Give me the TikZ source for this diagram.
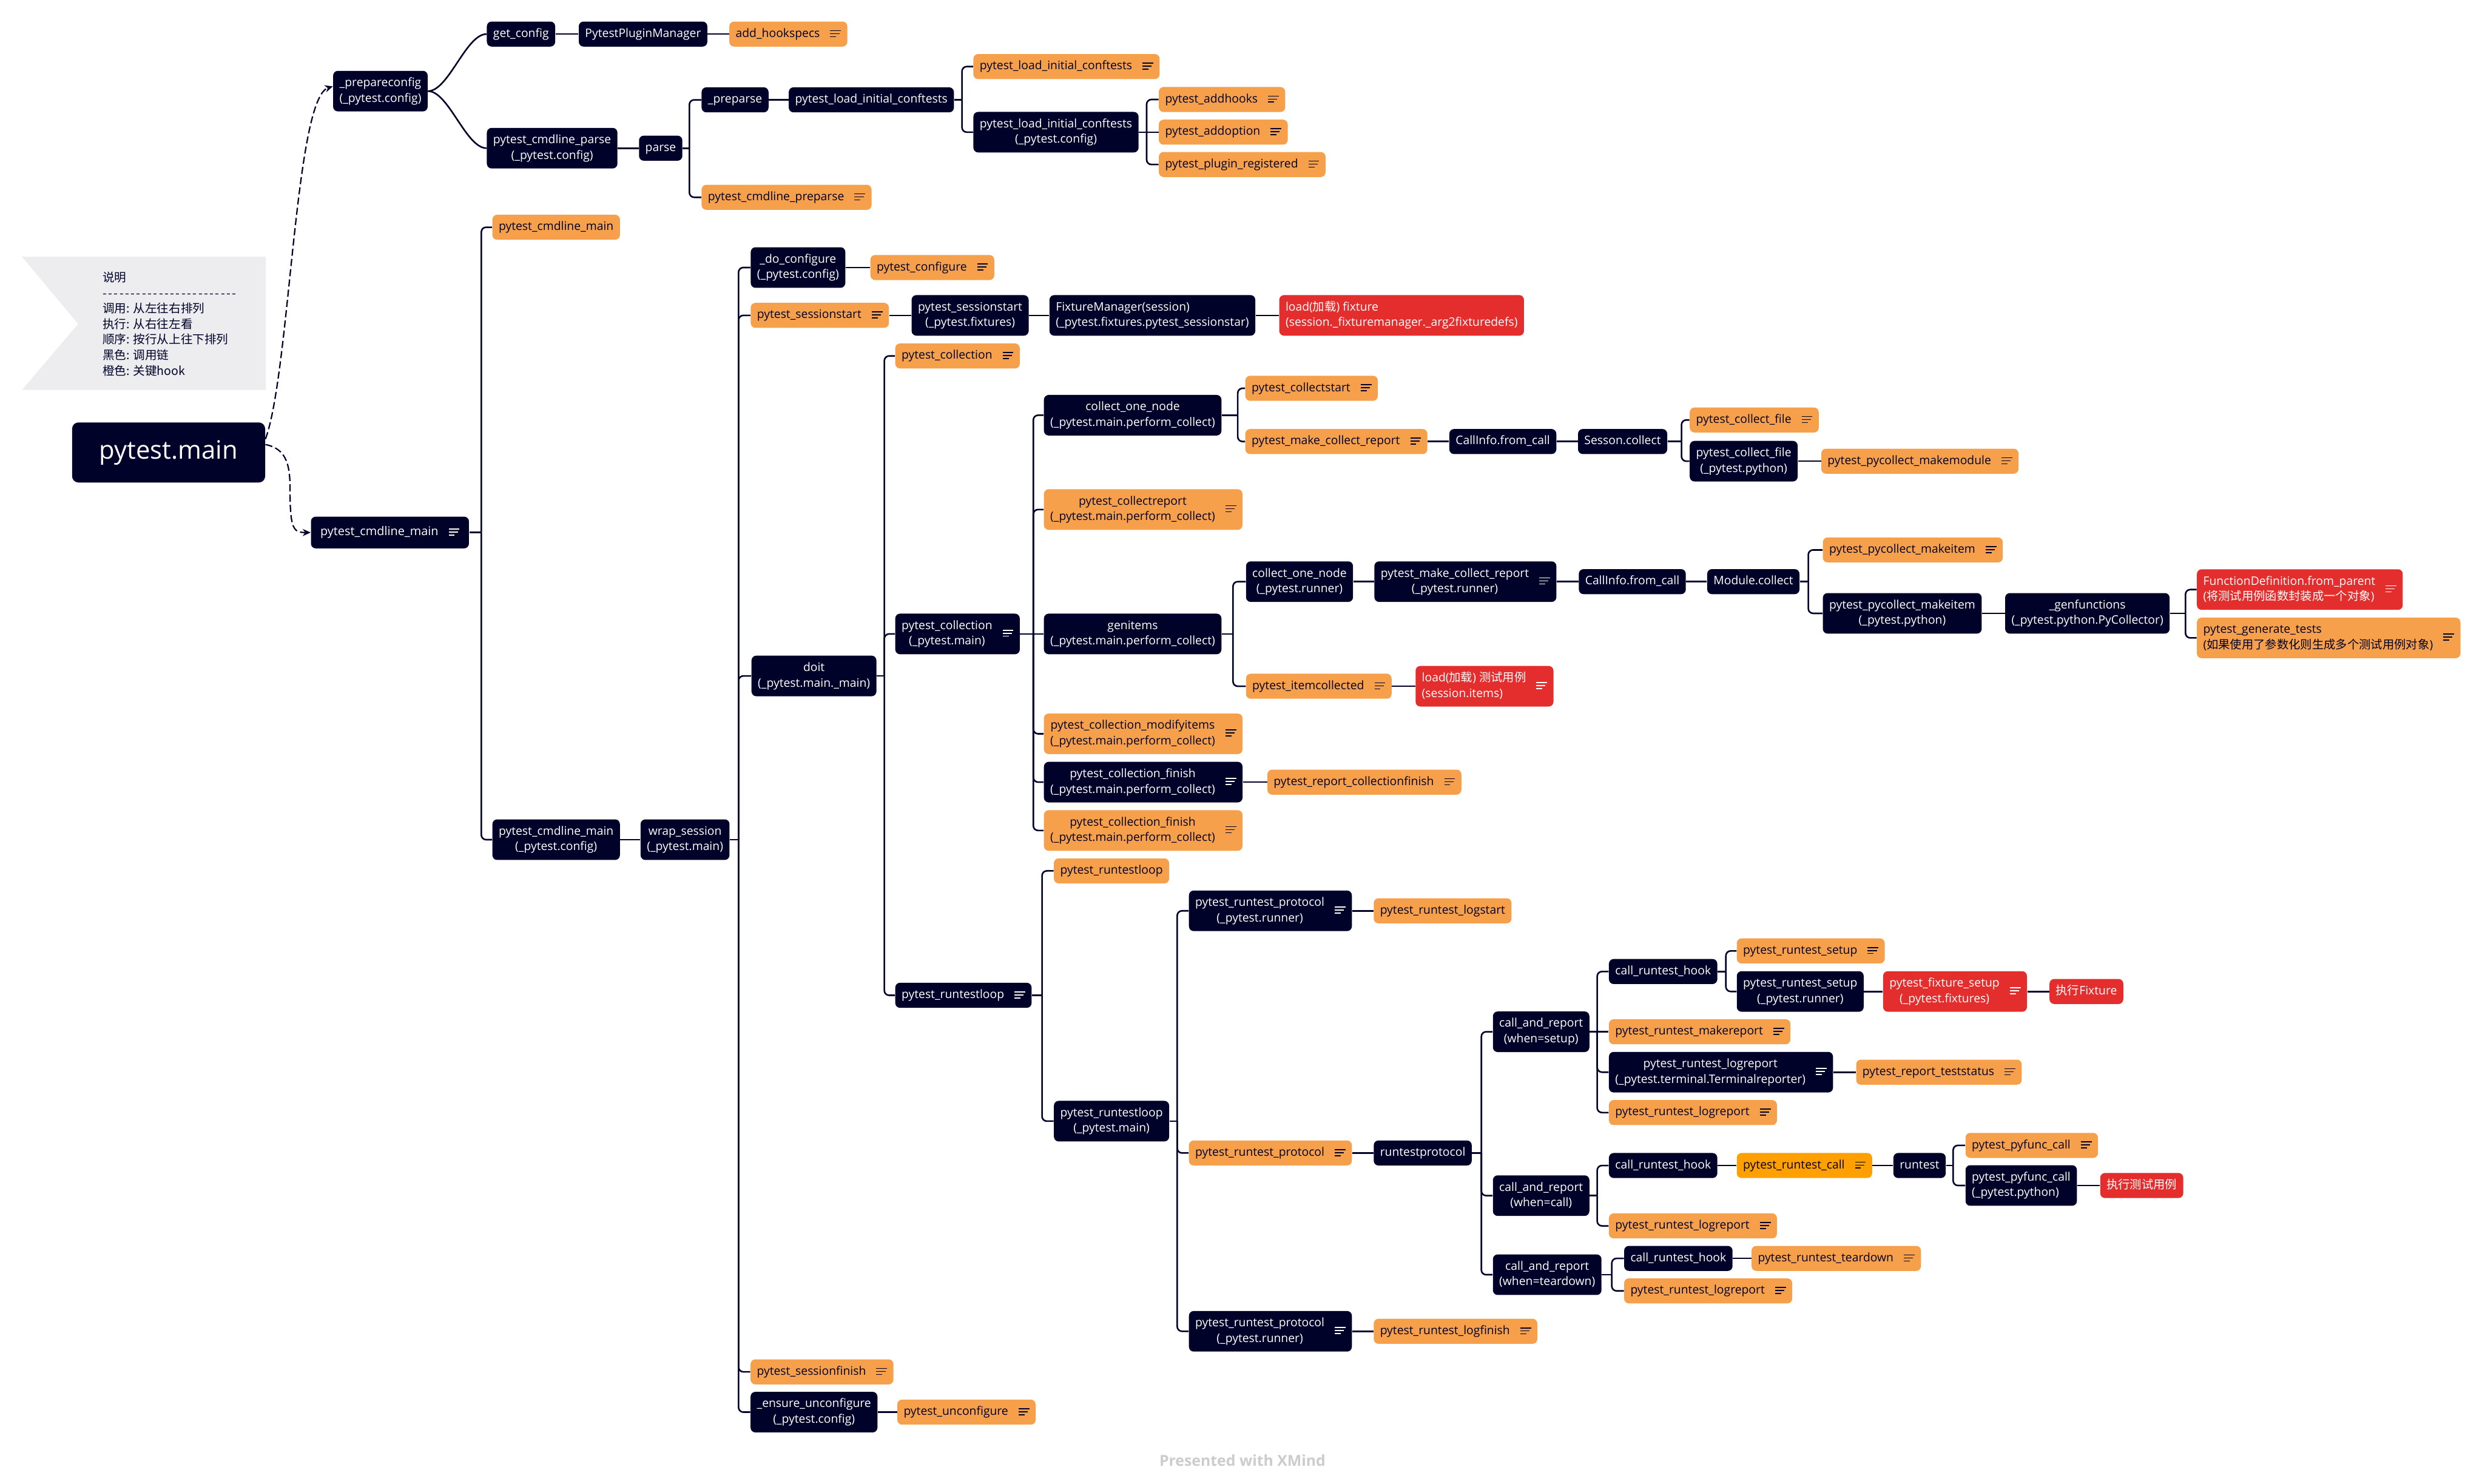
\documentclass[tikz,border=0pt]{standalone}
\usepackage{fontspec}
\setmainfont{Open Sans}
\newfontfamily\cjk{Noto Sans CJK SC}
\usetikzlibrary{arrows.meta}

\definecolor{navy}{HTML}{000229}
\definecolor{hookorange}{HTML}{F6A04C}
\definecolor{keyred}{HTML}{E42D2D}
\definecolor{amber}{HTML}{FFA000}
\definecolor{legendgray}{HTML}{EDECEF}
\definecolor{footgray}{HTML}{CCCCCC}

% note icon shown at the right of a topic
\newcommand\noteic{\hspace{6.5pt}\vbox{\hrule width 6.8pt height 0.65pt\vskip1.25pt\hrule width 5.8pt height 0.65pt\vskip1.25pt\hrule width 3.8pt height 0.65pt}}
\newcommand\duo[2]{\begin{tabular}{@{}c@{}}#1\\#2\end{tabular}}
\newcommand\duol[2]{\begin{tabular}{@{}l@{}}#1\\#2\end{tabular}}
\newcommand\dsh{-\kern0.95pt}
% parent -> child through a vertical trunk at x = #3
\newcommand\kid[3]{\coordinate (tk) at (#3,0);
  \draw[link] (#1.east) -- (#1.east -| tk);
  \draw[link] (#1.east -| tk) |- (#2.west);}

\begin{document}
\begin{tikzpicture}[x=1pt, y=-1pt,
    box/.style={anchor=west, rounded corners=3pt, inner xsep=4pt, inner ysep=3pt, font=\fontsize{7.4}{9.8}\selectfont, execute at begin node=\strut},
    blk/.style={box, fill=navy, text=white},
    hook/.style={box, fill=hookorange, text=navy},
    hot/.style={box, fill=keyred, text=white},
    callhook/.style={box, fill=amber, text=navy},
    link/.style={draw=navy, line width=1pt, rounded corners=3pt},
    dasharrow/.style={draw=navy, line width=0.85pt, dash pattern=on 4.5pt off 2pt, -{Stealth[length=5pt, width=4.5pt]}},
]
\fill[white] (0,0) rectangle (1568,936);
\useasboundingbox (0,0) rectangle (1568,936);

% Legend
\fill[legendgray] (13.9,162) -- (167.7,162) -- (167.7,246) -- (13.9,246) -- (49.3,204.4) -- cycle;
\node[anchor=west, align=left, inner sep=0pt, text=navy, font=\cjk\fontsize{7.5}{9.8}\selectfont] (legend) at (64.6,204.4)
  {说明\\\dsh\dsh\dsh\dsh\dsh\dsh\dsh\dsh\dsh\dsh\dsh\dsh\dsh\dsh\dsh\dsh\dsh\dsh\dsh\dsh\dsh\dsh\dsh\dsh\\调用: 从左往右排列\\执行: 从右往左看\\顺序: 按行从上往下排列\\黑色: 调用链\\橙色: 关键hook};

% Root
\node[fill=navy, text=white, rounded corners=4pt, minimum width=121.8pt, minimum height=37.9pt, font=\fontsize{16}{19}\selectfont] (main) at (106.4,285.5) {pytest.main};

% --- _prepareconfig ---
\node[blk] (prep) at (210,57.5) {\duo{\_prepareconfig}{(\_pytest.config)}};
\node[blk] (getcfg) at (307,21.5) {get\_config};
\node[blk] (ppm) at (365,21.5) {PytestPluginManager};
\node[hook] (addhs) at (460,21.5) {add\_hookspecs\noteic};
\node[blk] (cmdparse) at (307,93.5) {\duo{pytest\_cmdline\_parse}{(\_pytest.config)}};
\node[blk] (parse) at (403,93.5) {parse};
\node[blk] (preparse) at (442.5,63) {\_preparse};
\node[blk] (lic) at (497.5,63) {pytest\_load\_initial\_conftests};
\node[hook] (licorg) at (614,42) {pytest\_load\_initial\_conftests\noteic};
\node[blk] (licblk) at (614,83.4) {\duo{pytest\_load\_initial\_conftests}{(\_pytest.config)}};
\node[hook] (addhooks) at (731,62.8) {pytest\_addhooks\noteic};
\node[hook] (addopt) at (731,83.4) {pytest\_addoption\noteic};
\node[hook] (plugreg) at (731,103.8) {pytest\_plugin\_registered\noteic};
\node[hook] (cmdpre) at (442.5,124.5) {pytest\_cmdline\_preparse\noteic};

% --- pytest_cmdline_main ---
\node[blk, inner xsep=6pt, inner ysep=5.1pt, font=\fontsize{7.6}{9.8}\selectfont] (cmain) at (196,336) {pytest\_cmdline\_main\noteic};
\node[hook] (cmainorg) at (310.5,143.4) {pytest\_cmdline\_main};
\node[blk] (cmaincfg) at (310.5,529.8) {\duo{pytest\_cmdline\_main}{(\_pytest.config)}};
\node[blk] (wrap) at (404,529.8) {\duo{wrap\_session}{(\_pytest.main)}};
\node[blk] (docfg) at (473.5,168.8) {\duo{\_do\_configure}{(\_pytest.config)}};
\node[hook] (cfg) at (549,168.8) {pytest\_configure\noteic};
\node[hook] (ssorg) at (473.5,199) {pytest\_sessionstart\noteic};
\node[blk] (ssfix) at (575,199) {\duo{pytest\_sessionstart}{(\_pytest.fixtures)}};
\node[blk] (fixmgr) at (662,199) {\duol{FixtureManager(session)}{(\_pytest.fixtures.pytest\_sessionstar)}};
\node[hot] (loadfix) at (807,199) {\duol{load({\cjk 加载}) fixture}{(session.\_fixturemanager.\_arg2fixturedefs)}};
\node[blk] (doit) at (474,426.5) {\duo{doit}{(\_pytest.main.\_main)}};

% --- collection ---
\node[hook] (collorg) at (564.7,224.6) {pytest\_collection\noteic};
\node[blk] (collmain) at (564.7,400) {\duo{pytest\_collection}{(\_pytest.main)}\noteic};
\node[blk] (conpc) at (658.5,262) {\duo{collect\_one\_node}{(\_pytest.main.perform\_collect)}};
\node[hook] (cstart) at (785.6,245) {pytest\_collectstart\noteic};
\node[hook] (mcr) at (785.6,278.6) {pytest\_make\_collect\_report\noteic};
\node[blk] (ci1) at (914.3,278.6) {CallInfo.from\_call};
\node[blk] (sess) at (995.5,278.6) {Sesson.collect};
\node[hook] (cfileorg) at (1066,265) {pytest\_collect\_file\noteic};
\node[blk] (cfilepy) at (1066,291) {\duo{pytest\_collect\_file}{(\_pytest.python)}};
\node[hook] (mkmod) at (1149,291) {pytest\_pycollect\_makemodule\noteic};
\node[hook] (creport) at (658.5,321.5) {\duo{pytest\_collectreport}{(\_pytest.main.perform\_collect)}\noteic};
\node[blk] (genitems) at (658.5,400) {\duo{genitems}{(\_pytest.main.perform\_collect)}};
\node[blk] (conrun) at (786,367) {\duo{collect\_one\_node}{(\_pytest.runner)}};
\node[blk] (mcrrun) at (867,367) {\duo{pytest\_make\_collect\_report}{(\_pytest.runner)}\noteic};
\node[blk] (ci2) at (996,367) {CallInfo.from\_call};
\node[blk] (modcoll) at (1077,367) {Module.collect};
\node[hook] (mkitemorg) at (1150,347) {pytest\_pycollect\_makeitem\noteic};
\node[blk] (mkitempy) at (1150,387) {\duo{pytest\_pycollect\_makeitem}{(\_pytest.python)}};
\node[blk] (genfn) at (1265,387) {\duo{\_genfunctions}{(\_pytest.python.PyCollector)}};
\node[hot] (fdef) at (1386,372) {\duol{FunctionDefinition.from\_parent}{({\cjk 将测试用例函数封装成一个对象})}\noteic};
\node[hook] (gentests) at (1386,402.5) {\duol{pytest\_generate\_tests}{({\cjk 如果使用了参数化则生成多个测试用例对象})}\noteic};
\node[hook] (itemcoll) at (786,433) {pytest\_itemcollected\noteic};
\node[hot] (loaditems) at (893,433) {\duol{load({\cjk 加载}) {\cjk 测试用例}}{(session.items)}\noteic};
\node[hook] (modify) at (658.5,463) {\duo{pytest\_collection\_modifyitems}{(\_pytest.main.perform\_collect)}\noteic};
\node[blk] (finblk) at (658.5,493.5) {\duo{pytest\_collection\_finish}{(\_pytest.main.perform\_collect)}\noteic};
\node[hook] (repfin) at (799.5,493.5) {pytest\_report\_collectionfinish\noteic};
\node[hook] (finorg) at (658.5,524) {\duo{pytest\_collection\_finish}{(\_pytest.main.perform\_collect)}\noteic};

% --- runtestloop ---
\node[blk] (rtlblk) at (564.7,628) {pytest\_runtestloop\noteic};
\node[hook] (rtlorg) at (664.8,549.5) {pytest\_runtestloop};
\node[blk] (rtlmain) at (664.8,707.4) {\duo{pytest\_runtestloop}{(\_pytest.main)}};
\node[blk] (protA) at (750,574.7) {\duo{pytest\_runtest\_protocol}{(\_pytest.runner)}\noteic};
\node[hook] (logstart) at (866.6,574.7) {pytest\_runtest\_logstart};
\node[hook] (protorg) at (750,727.5) {pytest\_runtest\_protocol\noteic};
\node[blk] (rtproto) at (866.6,727.5) {runtestprotocol};
\node[blk] (protB) at (750,840) {\duo{pytest\_runtest\_protocol}{(\_pytest.runner)}\noteic};
\node[hook] (logfinish) at (866.6,840) {pytest\_runtest\_logfinish\noteic};

% setup
\node[blk] (carsetup) at (941.8,651) {\duo{call\_and\_report}{(when=setup)}};
\node[blk] (crh1) at (1015,613) {call\_runtest\_hook};
\node[hook] (rsetorg) at (1095.7,600) {pytest\_runtest\_setup\noteic};
\node[blk] (rsetrun) at (1095.7,625.6) {\duo{pytest\_runtest\_setup}{(\_pytest.runner)}};
\node[hot] (fixsetup) at (1188,625.6) {\duo{pytest\_fixture\_setup}{(\_pytest.fixtures)}\noteic};
\node[hot] (execfix) at (1293,625.6) {{\cjk 执行}Fixture};
\node[hook] (mkrep) at (1015,651) {pytest\_runtest\_makereport\noteic};
\node[blk] (logrepterm) at (1015,676.5) {\duo{pytest\_runtest\_logreport}{(\_pytest.terminal.Terminalreporter)}\noteic};
\node[hook] (teststatus) at (1171,676.5) {pytest\_report\_teststatus\noteic};
\node[hook] (logrep1) at (1015,702) {pytest\_runtest\_logreport\noteic};

% call
\node[blk] (carcall) at (941.8,754.4) {\duo{call\_and\_report}{(when=call)}};
\node[blk] (crh2) at (1015,735.4) {call\_runtest\_hook};
\node[callhook] (rcall) at (1095.7,735.4) {pytest\_runtest\_call\noteic};
\node[blk] (runtest) at (1194.5,735.4) {runtest};
\node[hook] (pyfuncorg) at (1240,722.7) {pytest\_pyfunc\_call\noteic};
\node[blk] (pyfuncpy) at (1240,748) {\duol{pytest\_pyfunc\_call}{(\_pytest.python)}};
\node[hot] (exectest) at (1325,748) {{\cjk 执行测试用例}};
\node[hook] (logrep2) at (1015,773.5) {pytest\_runtest\_logreport\noteic};

% teardown
\node[blk] (cartd) at (941.8,804.3) {\duo{call\_and\_report}{(when=teardown)}};
\node[blk] (crh3) at (1024.6,794) {call\_runtest\_hook};
\node[hook] (rtd) at (1105,794) {pytest\_runtest\_teardown\noteic};
\node[hook] (logrep3) at (1024.6,814.5) {pytest\_runtest\_logreport\noteic};

% session end
\node[hook] (ssfinish) at (473.4,865.6) {pytest\_sessionfinish\noteic};
\node[blk] (ensure) at (473.4,891) {\duo{\_ensure\_unconfigure}{(\_pytest.config)}};
\node[hook] (unconf) at (566,891) {pytest\_unconfigure\noteic};

% --- Connectors ---
\draw[dasharrow] ([yshift=8.5pt]main.east) .. controls (183,235) and (186,62) .. ([yshift=3pt]prep.west);
\draw[dasharrow] ([yshift=5pt]main.east) .. controls (180,283) and (183,292) .. (183,308) .. controls (183,334) and (185,336) .. (cmain.west);

\draw[link] (prep.east) .. controls +(13,0) and +(-13,0) .. (getcfg.west);
\draw[link] (prep.east) .. controls +(13,0) and +(-13,0) .. (cmdparse.west);
\draw[link] (getcfg.east) -- (ppm.west);
\draw[link] (ppm.east) -- (addhs.west);
\draw[link] (cmdparse.east) -- (parse.west);
\kid{parse}{preparse}{435}
\kid{parse}{cmdpre}{435}
\draw[link] (preparse.east) -- (lic.west);
\kid{lic}{licorg}{607}
\kid{lic}{licblk}{607}
\kid{licblk}{addhooks}{723.5}
\draw[link] (licblk.east) -- (addopt.west);
\kid{licblk}{plugreg}{723.5}

\kid{cmain}{cmainorg}{303.7}
\kid{cmain}{cmaincfg}{303.7}
\draw[link] (cmaincfg.east) -- (wrap.west);
\kid{wrap}{docfg}{466}
\kid{wrap}{ssorg}{466}
\kid{wrap}{doit}{466}
\kid{wrap}{ssfinish}{466}
\kid{wrap}{ensure}{466}
\draw[link] (docfg.east) -- (cfg.west);
\draw[link] (ssorg.east) -- (ssfix.west);
\draw[link] (ssfix.east) -- (fixmgr.west);
\draw[link] (fixmgr.east) -- (loadfix.west);
\draw[link] (ensure.east) -- (unconf.west);

\kid{doit}{collorg}{558}
\kid{doit}{collmain}{558}
\kid{doit}{rtlblk}{558}
\kid{collmain}{conpc}{652}
\kid{collmain}{creport}{652}
\draw[link] (collmain.east) -- (genitems.west);
\kid{collmain}{modify}{652}
\kid{collmain}{finblk}{652}
\kid{collmain}{finorg}{652}
\kid{conpc}{cstart}{781}
\kid{conpc}{mcr}{781}
\draw[link] (mcr.east) -- (ci1.west);
\draw[link] (ci1.east) -- (sess.west);
\kid{sess}{cfileorg}{1061}
\kid{sess}{cfilepy}{1061}
\draw[link] (cfilepy.east) -- (mkmod.west);
\kid{genitems}{conrun}{778}
\kid{genitems}{itemcoll}{778}
\draw[link] (conrun.east) -- (mcrrun.west);
\draw[link] (mcrrun.east) -- (ci2.west);
\draw[link] (ci2.east) -- (modcoll.west);
\kid{modcoll}{mkitemorg}{1141}
\kid{modcoll}{mkitempy}{1141}
\draw[link] (mkitempy.east) -- (genfn.west);
\kid{genfn}{fdef}{1379}
\kid{genfn}{gentests}{1379}
\draw[link] (itemcoll.east) -- (loaditems.west);
\draw[link] (finblk.east) -- (repfin.west);

\kid{rtlblk}{rtlorg}{657.5}
\kid{rtlblk}{rtlmain}{657.5}
\kid{rtlmain}{protA}{742.8}
\kid{rtlmain}{protorg}{742.8}
\kid{rtlmain}{protB}{742.8}
\draw[link] (protA.east) -- (logstart.west);
\draw[link] (protorg.east) -- (rtproto.west);
\draw[link] (protB.east) -- (logfinish.west);
\kid{rtproto}{carsetup}{934.7}
\kid{rtproto}{carcall}{934.7}
\kid{rtproto}{cartd}{934.7}

\kid{carsetup}{crh1}{1007.8}
\draw[link] (carsetup.east) -- (mkrep.west);
\kid{carsetup}{logrepterm}{1007.8}
\kid{carsetup}{logrep1}{1007.8}
\kid{crh1}{rsetorg}{1089}
\kid{crh1}{rsetrun}{1089}
\draw[link] (rsetrun.east) -- (fixsetup.west);
\draw[link] (fixsetup.east) -- (execfix.west);
\draw[link] (logrepterm.east) -- (teststatus.west);

\kid{carcall}{crh2}{1007.8}
\kid{carcall}{logrep2}{1007.8}
\draw[link] (crh2.east) -- (rcall.west);
\draw[link] (rcall.east) -- (runtest.west);
\kid{runtest}{pyfuncorg}{1232.4}
\kid{runtest}{pyfuncpy}{1232.4}
\draw[link] (pyfuncpy.east) -- (exectest.west);

\kid{cartd}{crh3}{1017}
\kid{cartd}{logrep3}{1017}
\draw[link] (crh3.east) -- (rtd.west);

% Footer
\node[text=footgray, font=\bfseries\fontsize{9.5}{11}\selectfont] (credit) at (784,921.5) {Presented with XMind};
\end{tikzpicture}
\end{document}
